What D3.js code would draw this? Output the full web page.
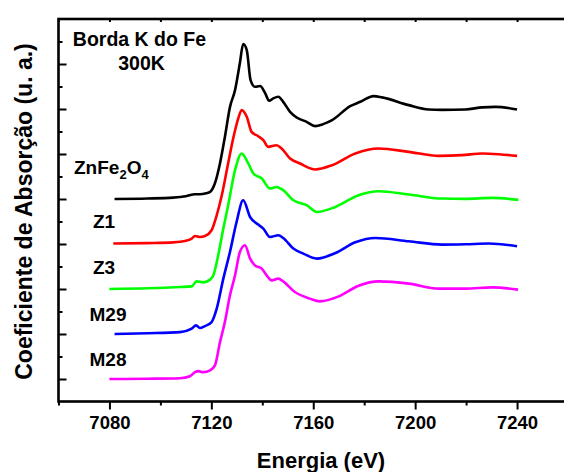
<!DOCTYPE html>
<html>
<head>
<meta charset="utf-8">
<script src="https://cdn.jsdelivr.net/npm/d3@7"></script>
<style>
  body { margin: 0; background: #fff; }
  svg text { font-family: "Liberation Sans", Arial, sans-serif; font-weight: bold; fill: #000; }
</style>
</head>
<body>
<div class="canvas"></div>
<script>
// normalized absorption [energy eV, mu] for each sample (before vertical offset)
const znfe2o4 = [[7082,0],[7095,0.005],[7105,0.015],[7110,0.03],[7113.6,0.053],[7115.5,0.053],[7118,0.065],[7119.5,0.079],[7121.4,0.175],[7123.4,0.398],[7125.3,0.687],[7127.3,1.021],[7129.3,1.21],[7131.2,1.511],[7132.5,1.722],[7133.9,1.655],[7135.4,1.321],[7137.1,1.247],[7139.1,1.255],[7141.1,1.177],[7142.7,1.091],[7144.3,1.118],[7146.3,1.136],[7148.2,1.08],[7150.9,0.969],[7153.5,0.906],[7157.4,0.857],[7160.7,0.81],[7163.9,0.832],[7167.4,0.876],[7174.5,1.032],[7178.5,1.08],[7183.7,1.143],[7187,1.129],[7197.5,1.043],[7205.3,0.995],[7210.5,0.99],[7219.7,0.995],[7226.3,1.018],[7231.5,1.024],[7240,0.995]];
const z1 = [[7081.5,0.005],[7095,0.01],[7105,0.018],[7110,0.035],[7112.3,0.06],[7113.6,0.089],[7115.5,0.078],[7117.5,0.089],[7120.1,0.153],[7122.1,0.319],[7124.1,0.542],[7126.6,0.898],[7128.6,1.176],[7130.6,1.399],[7131.9,1.488],[7133.9,1.413],[7135.8,1.246],[7138.4,1.198],[7140.4,1.154],[7142.3,1.079],[7145.6,1.098],[7147.6,1.061],[7150.9,0.95],[7154.8,0.895],[7160.8,0.828],[7167.4,0.876],[7176.5,1.006],[7185.7,1.061],[7197.5,1.024],[7209.3,0.979],[7218.4,0.987],[7226.3,1.006],[7232.8,0.998],[7240,0.979]];
const z3 = [[7080,0],[7095,0.008],[7107.7,0.022],[7112.3,0.029],[7114.2,0.085],[7116.8,0.074],[7119.5,0.104],[7120.8,0.152],[7122.7,0.374],[7124.7,0.671],[7126.6,0.931],[7129.3,1.32],[7131.9,1.506],[7134.5,1.395],[7136.5,1.283],[7139.8,1.228],[7143,1.116],[7145.6,1.134],[7148.2,1.098],[7152.2,0.986],[7157.4,0.931],[7161.5,0.856],[7168.7,0.912],[7177.8,1.042],[7185.7,1.086],[7197.5,1.05],[7210.5,1.005],[7219.7,1.001],[7230.2,1.012],[7240.5,0.99]];
const m29 = [[7082,0],[7095,0.008],[7107.7,0.021],[7112.3,0.059],[7114,0.096],[7115.5,0.066],[7117.5,0.088],[7120.1,0.132],[7122.1,0.281],[7124.7,0.615],[7127.3,0.911],[7129.9,1.245],[7132.5,1.486],[7135.2,1.3],[7138.4,1.216],[7140.4,1.171],[7143,1.078],[7146.3,1.097],[7148.2,1.067],[7152.2,0.949],[7156.1,0.893],[7161.4,0.838],[7168.7,0.9],[7176.5,1.019],[7184.4,1.067],[7197.5,1.03],[7210.5,0.993],[7219.7,0.997],[7228.9,1.005],[7240,0.975]];
const m28 = [[7080,0],[7095,0.003],[7107.7,0.009],[7111.6,0.031],[7113.6,0.076],[7114.9,0.087],[7116.8,0.076],[7119.5,0.095],[7121.4,0.151],[7123.4,0.41],[7125.3,0.632],[7127.3,0.929],[7129.3,1.152],[7131.2,1.411],[7133.2,1.486],[7135.2,1.338],[7137.1,1.263],[7139.8,1.226],[7141.7,1.152],[7143.7,1.096],[7146.3,1.115],[7148.2,1.085],[7152.8,0.966],[7158.7,0.893],[7162.6,0.863],[7170,0.918],[7177.8,1.037],[7185.7,1.085],[7197.5,1.06],[7209.3,1.004],[7219.7,1.004],[7230.2,1.018],[7240.4,0.993]];

const seriesData = [znfe2o4, z1, z3, m29, m28];
const offsets = [2.0, 1.5, 1.0, 0.5, 0];
const colors = ['#000000', '#ff0000', '#00ff00', '#0000ff', '#ff00ff'];

const xMajorTicks = [7080, 7120, 7160, 7200, 7240];
const xMinorTicks = [7060, 7100, 7140, 7180, 7220, 7260];
const yMajorTicks = [0, 0.5, 1, 1.5, 2, 2.5, 3, 3.5];
const yMinorTicks = [0.25, 0.75, 1.25, 1.75, 2.25, 2.75, 3.25, 3.75];

const width = 564, height = 472;

const svg = d3.select('.canvas')
    .append('svg')
    .attr('width', width)
    .attr('height', height)

const x = d3.scaleLinear()
    .domain([7060, 7260])
    .range([58.5, 568]);

const y = d3.scaleLinear()
    .domain([-0.25, 4.0])
    .range([401.5, 19]);

// curves
const line = d3.line()
    .x(d => x(d[0]))
    .y(d => y(d[1]))
    .curve(d3.curveMonotoneX);

seriesData.forEach((s, i) => {
    svg.append('path')
        .datum(s.map(d => [d[0], d[1] + offsets[i]]))
        .attr('fill', 'none')
        .attr('stroke', colors[i])
        .attr('stroke-width', 2.6)
        .attr('stroke-linejoin', 'round')
        .attr('d', line);
});

// axes
const xAxisGroup = svg.append('g').attr('transform', `translate(0, ${y(-0.25)})`);
xAxisGroup.call(d3.axisBottom(x).tickValues(xMajorTicks).tickSize(8).tickSizeOuter(0).tickPadding(6).tickFormat(d3.format('d')));
xAxisGroup.append('g').call(d3.axisBottom(x).tickValues(xMinorTicks).tickSize(4).tickSizeOuter(0).tickFormat(''));

const topAxisGroup = svg.append('g').attr('transform', `translate(0, ${y(4.0)})`);
topAxisGroup.call(d3.axisTop(x).tickValues(xMajorTicks.concat(xMinorTicks)).tickSize(-3).tickSizeOuter(0).tickFormat(''));

const yAxisGroup = svg.append('g').attr('transform', `translate(${x(7060)}, 0)`);
yAxisGroup.call(d3.axisLeft(y).tickValues(yMajorTicks).tickSize(-8).tickSizeOuter(0).tickFormat(''));
yAxisGroup.append('g').call(d3.axisLeft(y).tickValues(yMinorTicks).tickSize(-4).tickSizeOuter(0).tickFormat(''));

svg.selectAll('.domain').remove();
svg.selectAll('.tick line').attr('stroke', '#000').attr('stroke-width', 2);

xAxisGroup.selectAll('text')
    .attr('font-size', '18.5px')
    .attr('fill', '#000');

// frame
svg.append('rect')
    .attr('x', x(7060))
    .attr('y', y(4.0))
    .attr('width', x(7260) - x(7060))
    .attr('height', y(-0.25) - y(4.0))
    .attr('fill', 'none')
    .attr('stroke', '#000')
    .attr('stroke-width', 2.6);

// axis titles
svg.append('text')
    .attr('x', 321)
    .attr('y', 467.5)
    .attr('text-anchor', 'middle')
    .attr('font-size', '22px')
    .text('Energia (eV)');

svg.append('text')
    .attr('transform', 'translate(32, 211.5) rotate(-90)')
    .attr('text-anchor', 'middle')
    .attr('font-size', '23px')
    .text('Coeficiente de Absorção (u. a.)');

// annotations
svg.append('text').attr('x', 139.5).attr('y', 45.5).attr('text-anchor', 'middle')
    .attr('font-size', '19.5px').text('Borda K do Fe');
svg.append('text').attr('x', 141.5).attr('y', 70).attr('text-anchor', 'middle')
    .attr('font-size', '19.5px').text('300K');

const zn = svg.append('text').attr('x', 74).attr('y', 174).attr('font-size', '19px');
zn.append('tspan').text('ZnFe');
zn.append('tspan').attr('font-size', '13px').attr('dy', 5).text('2');
zn.append('tspan').attr('dy', -5).text('O');
zn.append('tspan').attr('font-size', '13px').attr('dy', 5).text('4');

const labels = [['Z1', 93, 228], ['Z3', 93, 273.5], ['M29', 89.5, 321], ['M28', 89.5, 366]];
labels.forEach(l => {
    svg.append('text').attr('x', l[1]).attr('y', l[2]).attr('font-size', '19px').text(l[0]);
});
</script>
</body>
</html>
